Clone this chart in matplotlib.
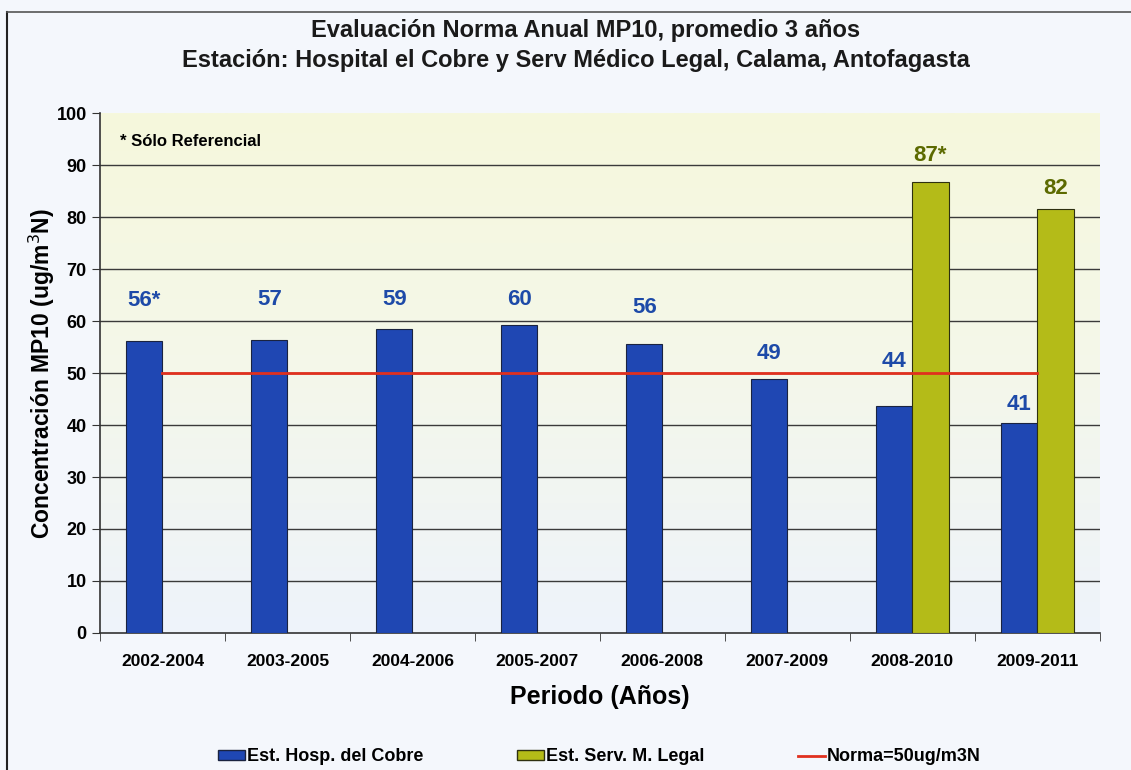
import numpy as np
import matplotlib.pyplot as plt
from matplotlib.colors import LinearSegmentedColormap
from matplotlib.patches import Patch
from matplotlib.lines import Line2D

periodos = ["2002-2004", "2003-2005", "2004-2006", "2005-2007",
            "2006-2008", "2007-2009", "2008-2010", "2009-2011"]
hosp_cobre = [56.1, 56.4, 58.5, 59.3, 55.6, 48.8, 43.6, 40.3]
hosp_labels = ["56*", "57", "59", "60", "56", "49", "44", "41"]
serv_legal = [np.nan] * 6 + [86.7, 81.5]
serv_labels = [""] * 6 + ["87*", "82"]
norma = 50

# label offsets above bar top, in pixels (labels were hand-placed in original)
hosp_off = [41, 40, 29, 25, 36, 26, 45, 19]
serv_off = [0] * 6 + [27, 21]

BLUE = "#1f47b3"
GREEN = "#b4bb18"
plt.rcParams["font.family"] = ["Liberation Sans", "DejaVu Sans"]

fig = plt.figure(figsize=(11.31, 7.70), dpi=100, facecolor="#f4f7fc")
ax = fig.add_axes([0.0884, 0.178, 0.884, 0.675])

# gradient background of plot area
grad = LinearSegmentedColormap.from_list("bg", ["#eef3fb", "#f4f7ea", "#f6f8dc"])
ax.imshow(np.linspace(0, 1, 256).reshape(-1, 1), cmap=grad, aspect="auto",
          extent=(-0.5, 7.5, 0, 100), origin="lower", zorder=0)

x = np.arange(len(periodos))
w = 0.29
ax.bar(x - w / 2, hosp_cobre, w, color=BLUE, edgecolor="#1a2340", lw=0.8, zorder=3)
ax.bar(x + w / 2, serv_legal, w, color=GREEN, edgecolor="#2e3010", lw=0.8, zorder=3)
ax.plot([x[0], x[-1]], [norma, norma], color="#e0301e", lw=2, zorder=4)

for i in range(len(periodos)):
    ax.annotate(hosp_labels[i], (x[i] - w / 2, hosp_cobre[i]),
                xytext=(0, hosp_off[i]), textcoords="offset pixels",
                ha="center", va="center", color="#1d4aa8",
                fontsize=16, fontweight="bold", zorder=5)
    if serv_labels[i]:
        ax.annotate(serv_labels[i], (x[i] + w / 2, serv_legal[i]),
                    xytext=(0, serv_off[i]), textcoords="offset pixels",
                    ha="center", va="center", color="#5c6a00",
                    fontsize=16, fontweight="bold", zorder=5)

ax.set_xlim(-0.5, 7.5)
ax.set_ylim(0, 100)
ax.set_yticks(range(0, 101, 10))
ax.set_xticks(x)
ax.set_xticklabels(periodos, fontsize=12.5, fontweight="bold")
ax.set_xticks(np.arange(-0.5, 8, 1), minor=True)
ax.tick_params(axis="x", which="major", length=0, pad=15)
ax.tick_params(axis="x", which="minor", length=6, color="#333333")
ax.tick_params(axis="y", length=6, color="#333333", labelsize=13)
for lbl in ax.get_yticklabels():
    lbl.set_fontweight("bold")
for yv in range(10, 100, 10):
    ax.axhline(yv, color="#3a3a3a", lw=1, zorder=1)
for s in ["top", "right"]:
    ax.spines[s].set_visible(False)
for s in ["left", "bottom"]:
    ax.spines[s].set_color("#333333")
    ax.spines[s].set_linewidth(1.2)

ax.set_ylabel("Concentración MP10 (ug/m$^3$N)", fontsize=16.5, fontweight="bold", labelpad=0)
ax.set_xlabel("Periodo (Años)", fontsize=18, fontweight="bold", labelpad=12)
ax.text(0.02, 0.945, "* Sólo Referencial", transform=ax.transAxes,
        fontsize=12, fontweight="bold", va="center")

fig.text(0.518, 0.960, "Evaluación Norma Anual MP10, promedio 3 años",
         ha="center", va="center", fontsize=17, fontweight="bold", color="#1a1a1a")
fig.text(0.509, 0.922, "Estación: Hospital el Cobre y Serv Médico Legal, Calama, Antofagasta",
         ha="center", va="center", fontsize=17, fontweight="bold", color="#1a1a1a")

handles = [Patch(facecolor=BLUE, edgecolor="#1a2340"),
           Patch(facecolor=GREEN, edgecolor="#2e3010"),
           Line2D([0], [0], color="#e0301e", lw=2)]
fig.legend(handles, ["Est. Hosp. del Cobre", "Est. Serv. M. Legal", "Norma=50ug/m3N"],
           loc="center", bbox_to_anchor=(0.53, 0.017), ncol=3, frameon=False,
           prop={"weight": "bold", "size": 13},
           columnspacing=5.2, handlelength=1.5, handleheight=0.5, handletextpad=0.1)

# scanned page frame
fig.add_artist(Line2D([0.006, 0.006], [0, 0.985], color="#222222", lw=1.5))
fig.add_artist(Line2D([0.006, 1], [0.985, 0.985], color="#555555", lw=1.2))

fig.savefig("out.png", dpi=100, facecolor=fig.get_facecolor())
